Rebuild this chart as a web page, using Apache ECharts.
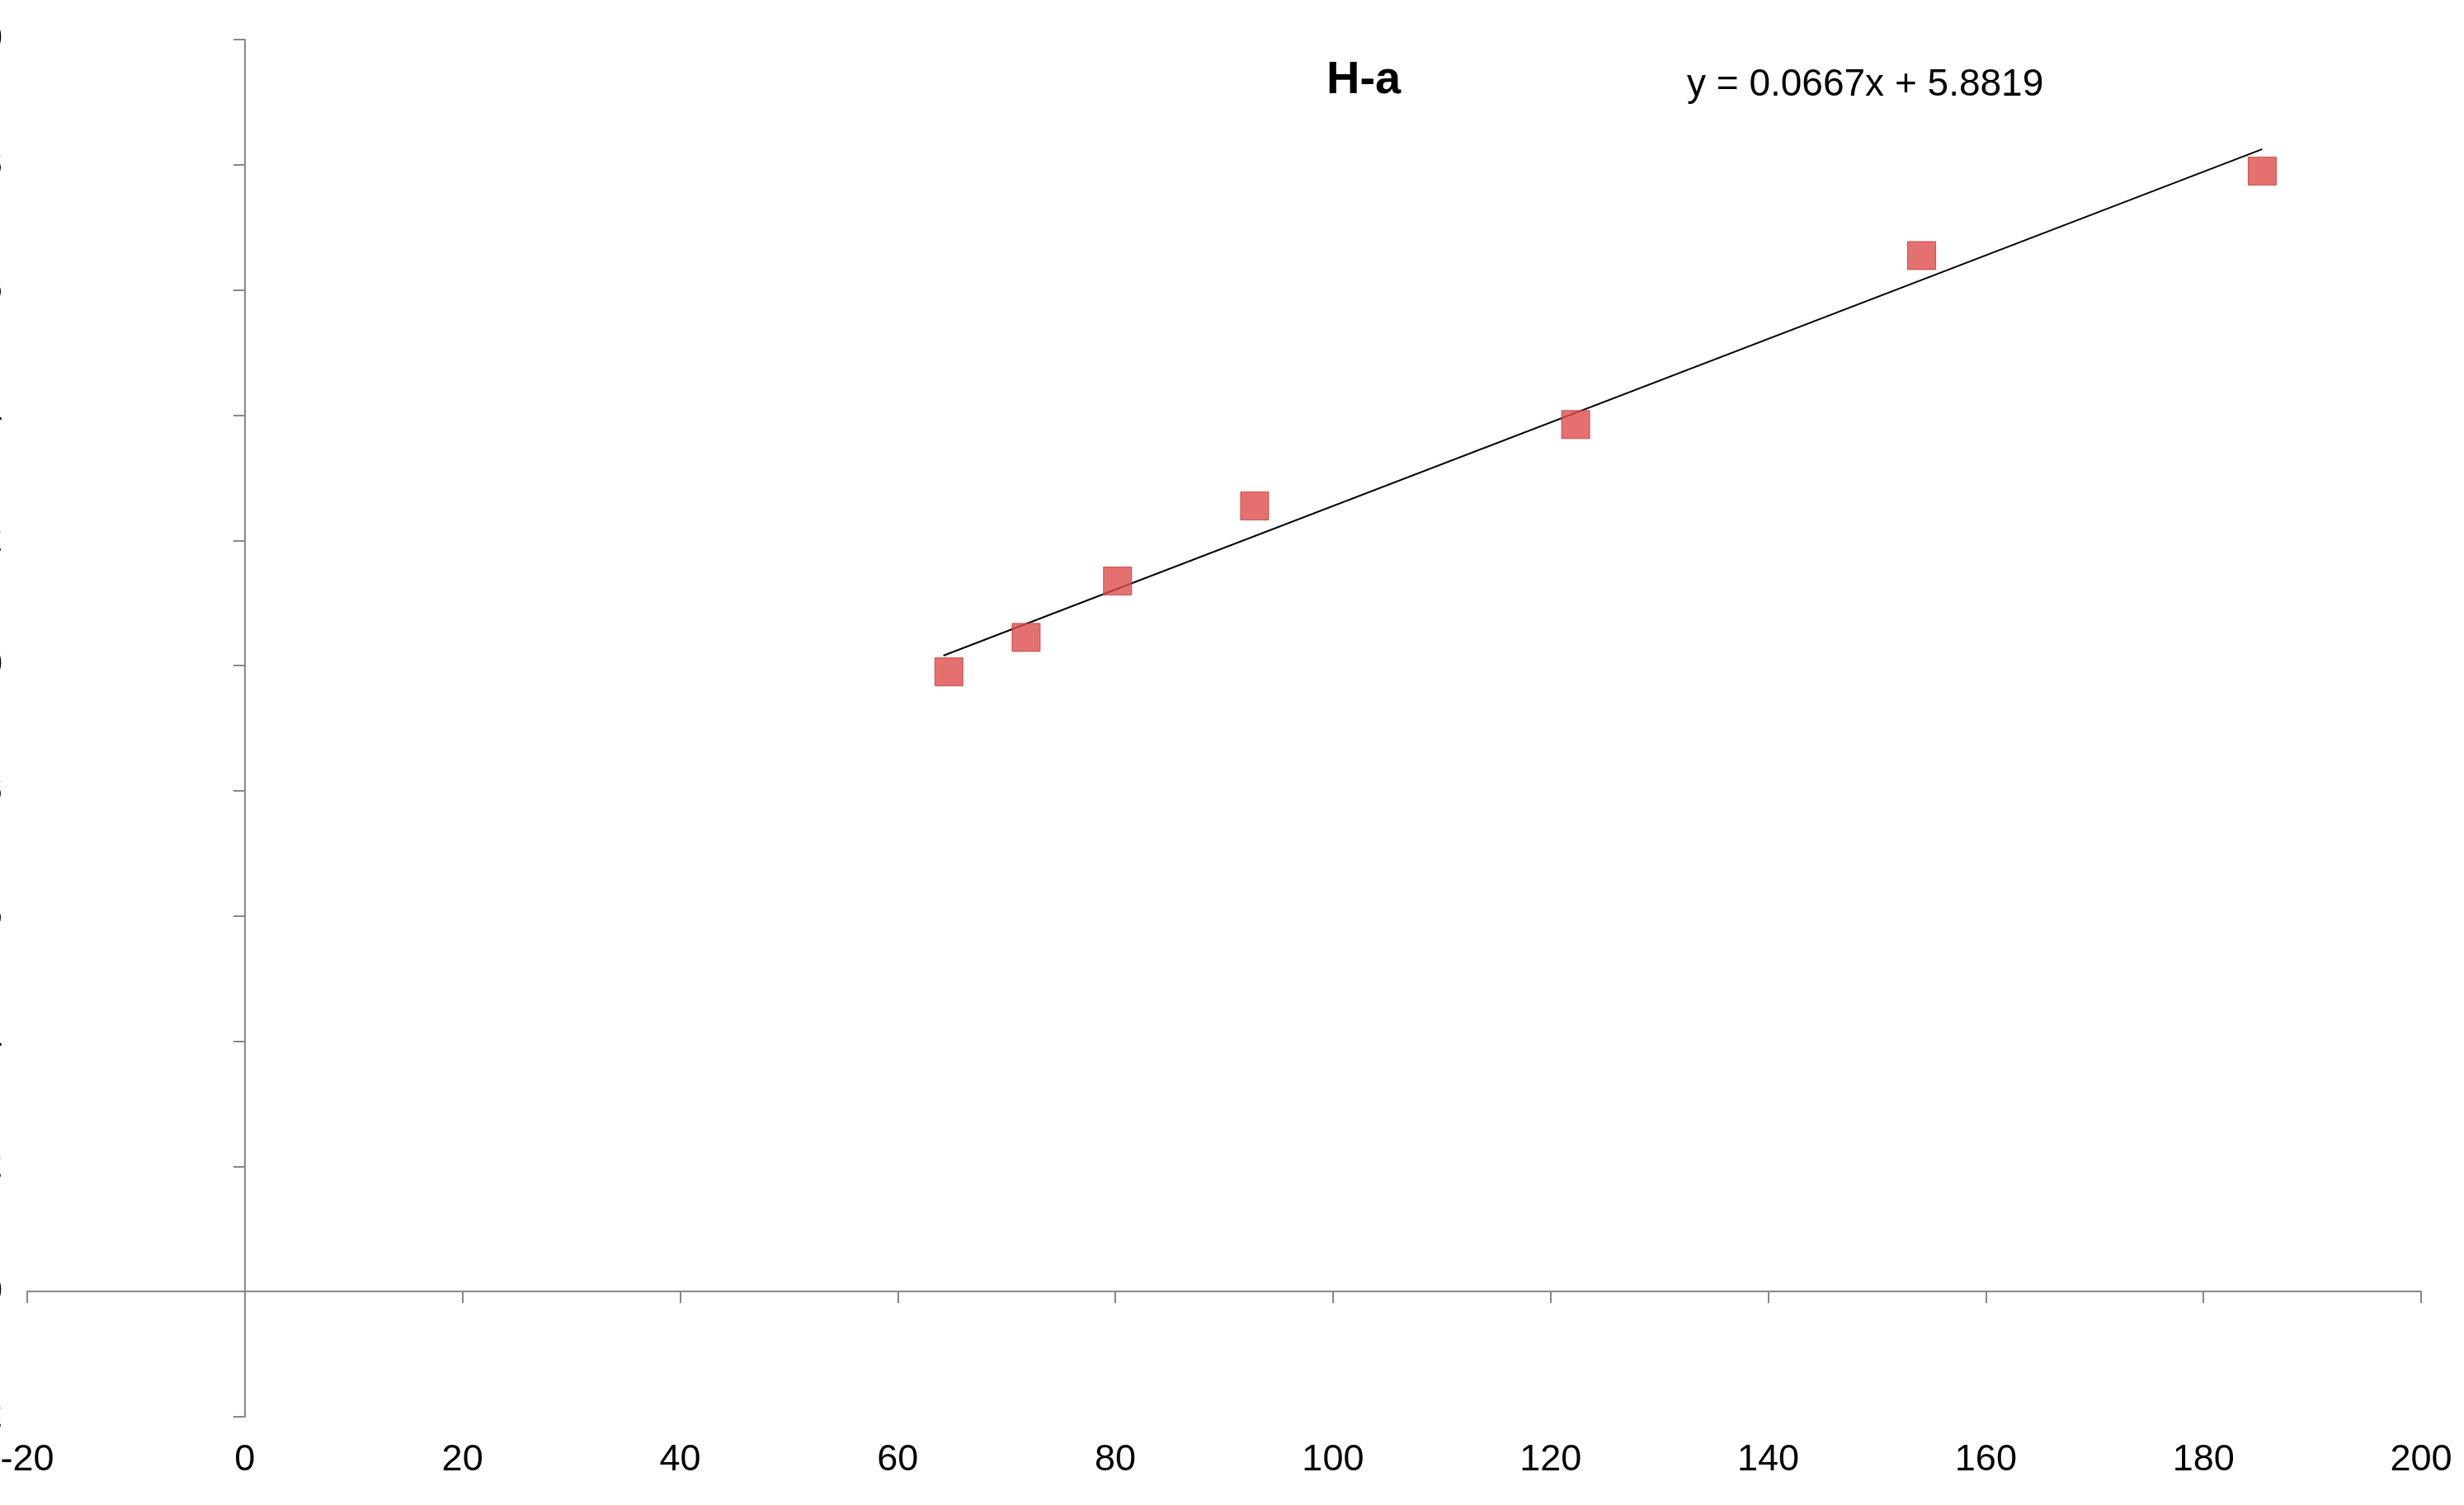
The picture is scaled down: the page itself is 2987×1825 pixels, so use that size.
<!DOCTYPE html>
<html>
<head>
<meta charset="utf-8">
<script src="https://cdn.jsdelivr.net/npm/echarts@6/dist/echarts.min.js"></script>
<style>html,body{margin:0;padding:0;background:#fff}#c{width:2987px;height:1825px}</style>
</head>
<body>
<div id="c"></div>
<script>
// measured points 1/[b-CD] vs 1/delta
const xValues = [64.7, 71.8, 80.2, 92.8, 122.3, 154.1, 185.4];
const yValues = [9.9, 10.45, 11.35, 12.55, 13.85, 16.55, 17.9];
// linear fit y = 0.0667x + 5.8819, drawn between first and last x
const fitX = [64.2, 185.4];
const fitY = [10.16, 18.25];
const chartTitle = 'H-a';
const fitLabel = 'y = 0.0667x + 5.8819';

const font = 'Liberation Sans';
const chart = echarts.init(document.getElementById('c'));
chart.setOption({
    animation: false,
    textStyle: {fontFamily: font},
    grid: {left: 33, right: 52, top: 48, bottom: 107, containLabel: false, outerBoundsMode: 'none'},
    graphic: [
        {type: 'text', left: 1608, top: 70, style: {text: chartTitle, font: 'bold 56px ' + font, fill: '#000'}},
        {type: 'text', left: 2045, top: 80, style: {text: fitLabel, font: '46px ' + font, fill: '#000'}}
    ],
    xAxis: {
        type: 'value', min: -20, max: 200, interval: 20,
        name: '1/[β-CD] (M{sup|-1})',
        nameLocation: 'middle', nameGap: 205,
        nameTextStyle: {fontSize: 52, fontWeight: 'bold', color: '#000',
            rich: {sup: {fontSize: 32, fontWeight: 'bold', verticalAlign: 'top', padding: [0, 0, 22, 0]}}},
        axisLine: {onZero: true, lineStyle: {color: '#888', width: 2}},
        axisTick: {length: 14, lineStyle: {color: '#888', width: 2}},
        axisLabel: {fontSize: 45, color: '#000', margin: 30},
        splitLine: {show: false}
    },
    yAxis: {
        type: 'value', min: -2, max: 20, interval: 2,
        name: '1/Δδ{sub|obs} (ppm{sup|-1})',
        nameLocation: 'middle', nameGap: 205,
        nameTextStyle: {fontSize: 52, fontWeight: 'bold', color: '#000',
            rich: {
                sub: {fontSize: 30, fontWeight: 'bold', verticalAlign: 'bottom', padding: [18, 0, 0, 0]},
                sup: {fontSize: 32, fontWeight: 'bold', verticalAlign: 'top', padding: [0, 0, 22, 0]}
            }},
        axisLine: {show: true, onZero: true, lineStyle: {color: '#888', width: 2}},
        axisTick: {show: true, length: 14, lineStyle: {color: '#888', width: 2}},
        axisLabel: {fontSize: 45, color: '#000', margin: 30},
        splitLine: {show: false}
    },
    series: [
        {
            type: 'line', data: fitX.map((x, i) => [x, fitY[i]]),
            symbol: 'none', lineStyle: {color: '#000', width: 2}, z: 1
        },
        {
            type: 'scatter', data: xValues.map((x, i) => [x, yValues[i]]),
            symbol: 'rect', symbolSize: 34,
            itemStyle: {color: '#de4c4c', borderColor: '#c03a3a', borderWidth: 1}, z: 2
        }
    ]
});
</script>
</body>
</html>
